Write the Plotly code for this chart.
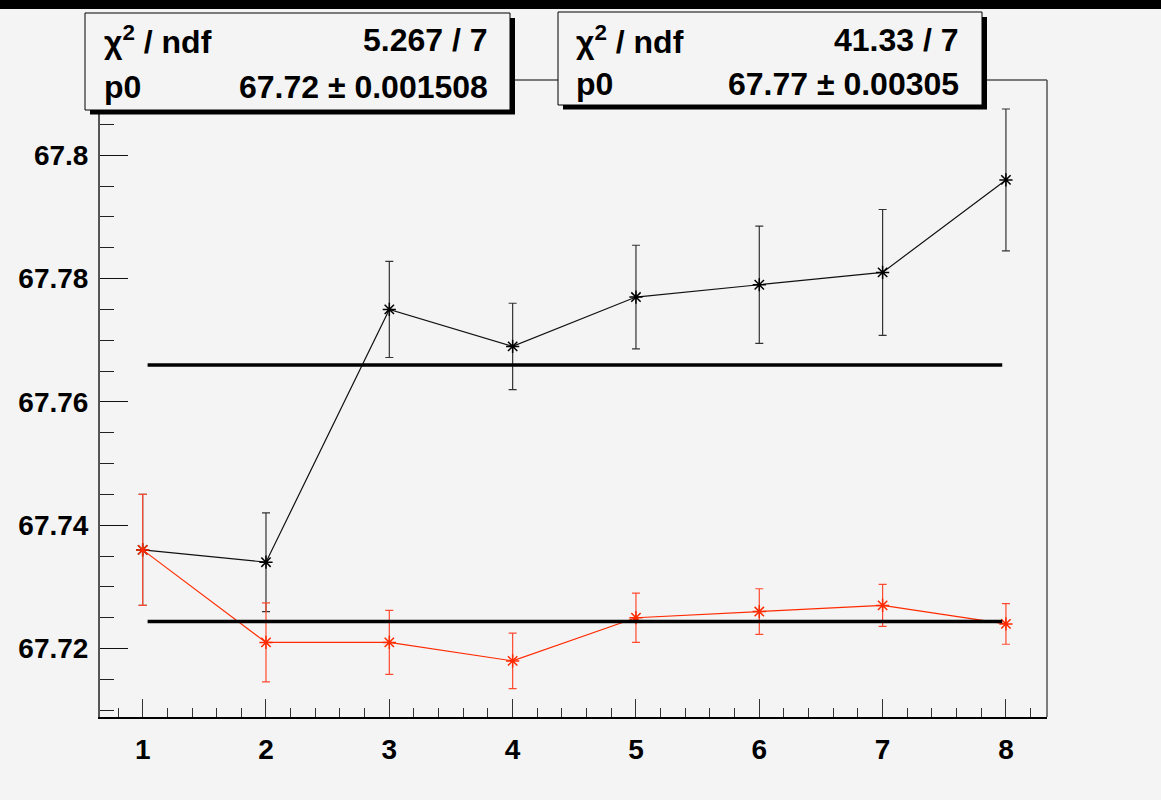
import plotly.graph_objects as go

# ---------------- data ----------------
x_points = [1, 2, 3, 4, 5, 6, 7, 8]

black_y = [67.736, 67.734, 67.775, 67.769, 67.777, 67.779, 67.781, 67.796]
black_err = [0.009, 0.008, 0.0078, 0.007, 0.0084, 0.0095, 0.0102, 0.0115]

red_y = [67.736, 67.721, 67.721, 67.718, 67.725, 67.726, 67.727, 67.724]
red_err = [0.009, 0.0064, 0.0052, 0.0045, 0.004, 0.0037, 0.0034, 0.0033]

black_fit_p0 = 67.766
red_fit_p0 = 67.7244
fit_x_range = [1.04, 7.97]

x_tick_vals = [1, 2, 3, 4, 5, 6, 7, 8]
x_tick_text = ["1", "2", "3", "4", "5", "6", "7", "8"]
y_tick_vals = [67.72, 67.74, 67.76, 67.78, 67.80]
y_tick_text = ["67.72", "67.74", "67.76", "67.78", "67.8"]

box1_rows = [("χ<sup>2</sup> / ndf", "5.267 / 7"), ("p0", "67.72 ± 0.001508")]
box2_rows = [("χ<sup>2</sup> / ndf", "41.33 / 7"), ("p0", "67.77 ± 0.00305")]

x_range = [0.654, 8.333]
y_range = [67.7089, 67.8122]

# ---------------- layout helpers ----------------
W, H = 1161, 800
L, R, T, B = 100, 1047, 80, 717
BG = "#f4f4f4"
RED = "#ff2a00"
FONT = "Liberation Sans, Arial, Helvetica, sans-serif"


def px(xp):
    return (xp - L) / (R - L)


def py(yp):
    return (B - yp) / (B - T)


fig = go.Figure()

# black graph
fig.add_trace(go.Scatter(
    x=x_points, y=black_y, mode="lines+markers",
    line=dict(color="#111111", width=1.2),
    marker=dict(symbol="asterisk-open", size=11, color="#000000",
                line=dict(color="#000000", width=1.5)),
    error_y=dict(type="data", array=black_err, visible=True,
                 color="#333333", thickness=1.2, width=4),
    showlegend=False, hoverinfo="skip"))

# red graph
fig.add_trace(go.Scatter(
    x=x_points, y=red_y, mode="lines+markers",
    line=dict(color=RED, width=1.2),
    marker=dict(symbol="asterisk-open", size=11, color=RED,
                line=dict(color=RED, width=1.5)),
    error_y=dict(type="data", array=red_err, visible=True,
                 color="#ff4a30", thickness=1.2, width=4),
    showlegend=False, hoverinfo="skip"))

# fit lines
for p0 in (red_fit_p0, black_fit_p0):
    fig.add_trace(go.Scatter(
        x=fit_x_range, y=[p0, p0], mode="lines",
        line=dict(color="#000000", width=3.5),
        showlegend=False, hoverinfo="skip"))

shapes = []
# top black band
shapes.append(dict(type="rect", xref="paper", yref="paper",
                   x0=px(0), x1=px(W), y0=py(9), y1=py(0),
                   fillcolor="#000000", line=dict(width=0), layer="above"))
# frame: top and right
shapes.append(dict(type="line", xref="paper", yref="paper",
                   x0=0, x1=1, y0=1, y1=1,
                   line=dict(color="#000000", width=1), layer="above"))
shapes.append(dict(type="line", xref="paper", yref="paper",
                   x0=1, x1=1, y0=0, y1=1,
                   line=dict(color="#555555", width=1.5), layer="above"))


def stat_box(x0, y0, x1, y1):
    # shadow
    shapes.append(dict(type="rect", xref="paper", yref="paper",
                       x0=px(x0 + 5), x1=px(x1 + 5), y0=py(y1 + 4.5), y1=py(y0 + 5),
                       fillcolor="#000000", line=dict(width=0), layer="above"))
    shapes.append(dict(type="rect", xref="paper", yref="paper",
                       x0=px(x0), x1=px(x1), y0=py(y1), y1=py(y0),
                       fillcolor=BG, line=dict(color="#000000", width=1), layer="above"))


stat_box(85, 13, 510, 110)
stat_box(558, 12, 982, 105)

annotations = []


def box_text(rows, xl, xr, ys):
    for (lab, val), yy in zip(rows, ys):
        annotations.append(dict(xref="paper", yref="paper", x=px(xl), y=py(yy),
                                xanchor="left", yanchor="middle", text=lab, showarrow=False,
                                font=dict(family=FONT, size=32, color="#000000", weight="bold")))
        annotations.append(dict(xref="paper", yref="paper", x=px(xr), y=py(yy),
                                xanchor="right", yanchor="middle", text=val, showarrow=False,
                                font=dict(family=FONT, size=32, color="#000000", weight="bold")))


box_text(box1_rows, 102, 490, [40, 87])
box_text(box2_rows, 574, 961, [40, 84])

fig.update_layout(
    width=W, height=H,
    margin=dict(l=L, r=W - R, t=T, b=H - B, pad=0),
    paper_bgcolor=BG, plot_bgcolor=BG,
    shapes=shapes, annotations=annotations,
    showlegend=False,
    xaxis=dict(range=x_range, showgrid=False, zeroline=False,
               showline=True, linecolor="#000000", linewidth=2, mirror=False,
               tickmode="array", tickvals=x_tick_vals, ticktext=x_tick_text,
               ticks="inside", ticklen=18, tickwidth=1.2, tickcolor="#333333",
               minor=dict(ticks="inside", dtick=0.2, tick0=0, ticklen=9,
                          tickwidth=1, tickcolor="#333333", showgrid=False),
               tickfont=dict(family=FONT, size=28, color="#000000", weight="bold"),
               ticklabelstandoff=6),
    yaxis=dict(range=y_range, showgrid=False, zeroline=False,
               showline=True, linecolor="#555555", linewidth=2, mirror=False,
               tickmode="array", tickvals=y_tick_vals, ticktext=y_tick_text,
               ticks="inside", ticklen=28, tickwidth=1.2, tickcolor="#111111",
               minor=dict(ticks="inside", dtick=0.005, tick0=67.7, ticklen=14,
                          tickwidth=1, tickcolor="#222222", showgrid=False),
               tickfont=dict(family=FONT, size=28, color="#000000", weight="bold"),
               ticklabelstandoff=4),
)

fig.write_html("out.html",
               config={"displayModeBar": False},
               post_script="document.body.style.margin='0';document.body.style.background='#f4f4f4';")
